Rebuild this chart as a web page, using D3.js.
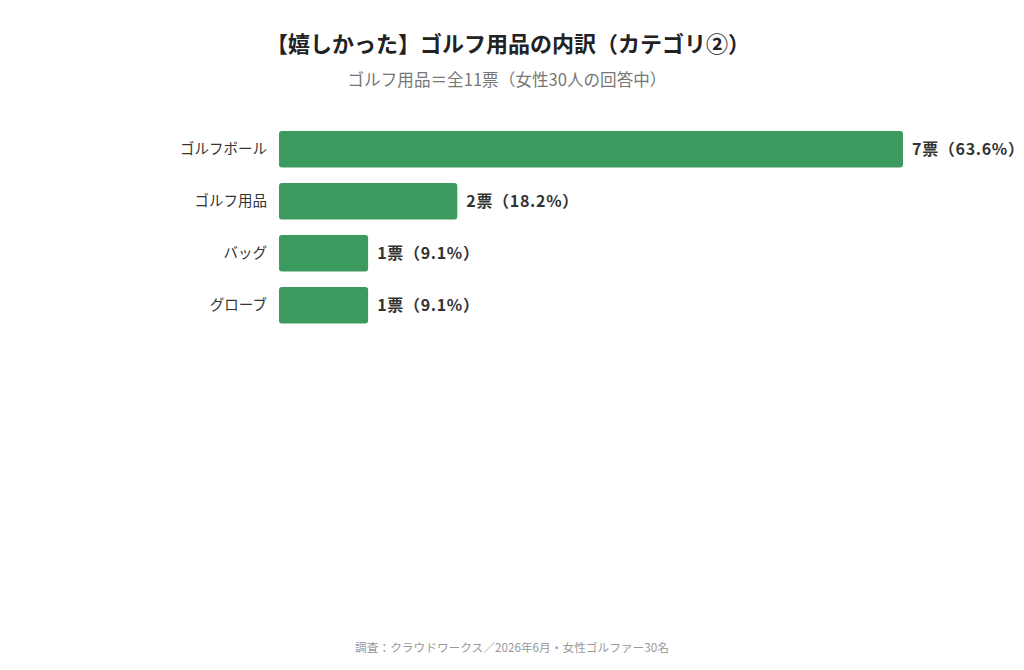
<!DOCTYPE html>
<html>
<head>
<meta charset="utf-8">
<script src="https://cdn.jsdelivr.net/npm/d3@7"></script>
<style>
  body { margin: 0; background: #fff; }
  svg { font-family: "Noto Sans CJK JP", "Noto Sans", sans-serif; }
</style>
</head>
<body>
<div id="canvas"></div>
<script>
const categories = ["ゴルフボール", "ゴルフ用品", "バッグ", "グローブ"];
const votes = [7, 2, 1, 1];
const valueLabels = ["7票（63.6%）", "2票（18.2%）", "1票（9.1%）", "1票（9.1%）"];

const width = 1024;
const height = 670;
const svg = d3.select("#canvas").append("svg")
  .attr("width", width)
  .attr("height", height);

svg.append("text")
  .attr("x", 508).attr("y", 52)
  .attr("text-anchor", "middle")
  .attr("font-size", 22).attr("font-weight", "bold")
  .attr("fill", "#222")
  .text("【嬉しかった】ゴルフ用品の内訳（カテゴリ②）");

svg.append("text")
  .attr("x", 507).attr("y", 86)
  .attr("text-anchor", "middle")
  .attr("font-size", 16.6)
  .attr("fill", "#777")
  .text("ゴルフ用品＝全11票（女性30人の回答中）");

const x = d3.scaleLinear().domain([0, 7]).range([279, 903]);
const y = d3.scaleBand().domain(categories).range([115.4, 339]).padding(0.3);

const data = categories.map((c, i) => ({ name: c, v: votes[i], label: valueLabels[i] }));

svg.selectAll("rect.bar").data(data).enter().append("rect")
  .attr("class", "bar")
  .attr("x", x(0))
  .attr("y", d => y(d.name))
  .attr("width", d => x(d.v) - x(0))
  .attr("height", y.bandwidth())
  .attr("rx", 3)
  .attr("fill", "#3c9a5f");

svg.selectAll("text.cat").data(data).enter().append("text")
  .attr("class", "cat")
  .attr("x", x(0) - 12)
  .attr("y", d => y(d.name) + y.bandwidth() / 2)
  .attr("dy", "0.35em")
  .attr("text-anchor", "end")
  .attr("font-size", 14.5)
  .attr("fill", "#333")
  .text(d => d.name);

svg.selectAll("text.val").data(data).enter().append("text")
  .attr("class", "val")
  .attr("x", d => x(d.v) + 9)
  .attr("y", d => y(d.name) + y.bandwidth() / 2)
  .attr("dy", "0.35em")
  .attr("font-size", 16).attr("font-weight", "bold")
  .attr("letter-spacing", 0.7)
  .attr("fill", "#333")
  .text(d => d.label);

svg.append("text")
  .attr("x", 512).attr("y", 652)
  .attr("text-anchor", "middle")
  .attr("font-size", 11.7)
  .attr("fill", "#999")
  .text("調査：クラウドワークス／2026年6月・女性ゴルファー30名");
</script>
</body>
</html>
